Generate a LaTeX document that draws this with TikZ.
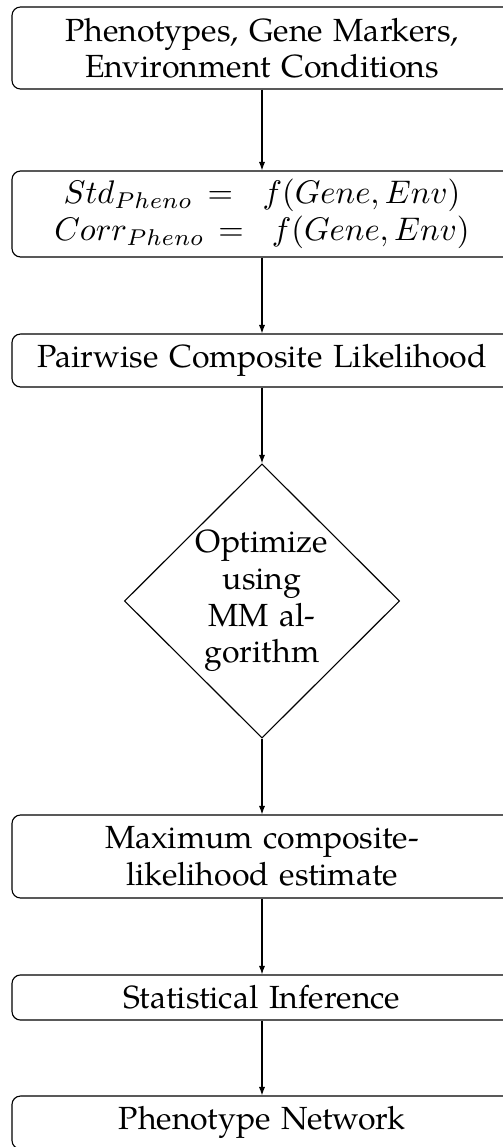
\documentclass[tikz,border=0pt]{standalone}
\usepackage[no-math]{fontspec}
\setmainfont{TeX Gyre Pagella}
\usetikzlibrary{shapes.geometric,arrows.meta}
\newcommand{\eqgap}{=\hspace{4.5pt}}
\begin{document}
\begin{tikzpicture}[
  x=0.306pt, y=-0.306pt,
  line width=0.35pt,
  font=\fontsize{9.8}{11.2}\selectfont,
  stepbox/.style={draw, rounded corners=2.6pt, minimum width=153pt,
    text width=146pt, align=center, inner sep=0pt},
  decide/.style={draw, diamond, aspect=1, minimum width=84.2pt,
    minimum height=83.9pt, inner sep=-4pt, text width=46pt, align=center},
  flow/.style={-{Latex[length=2.6pt,width=1.9pt]}}
]
  \useasboundingbox (0,0) rectangle (503,1147);
  \clip (0,0) rectangle (503,1147);

  % process steps, top to bottom
  \node[stepbox, minimum height=25.1pt] (input) at (262,48)
    {Phenotypes, Gene Markers,\\Environment Conditions};
  \node[stepbox, minimum height=26.3pt] (model) at (262,214)
    {$Std_{Pheno}\eqgap f(Gene, Env)$\\
     $Corr_{Pheno}\eqgap f(Gene, Env)$};
  \node[stepbox, minimum height=16.2pt] (pcl) at (262,360.5)
    {Pairwise Composite Likelihood};
  \node[decide] (opt) at (262,601)
    {Optimize\\using\\MM al-\\gorithm};
  \node[stepbox, minimum height=25.4pt] (mcle) at (262,856.5)
    {Maximum composite-\\likelihood estimate};
  \node[stepbox, minimum height=13.8pt] (infer) at (262,997.5)
    {Statistical Inference};
  \node[stepbox, minimum height=16.2pt] (net) at (262,1122.5)
    {Phenotype Network};

  % connectors
  \draw[flow] (input) -- (model);
  \draw[flow] (model) -- (pcl);
  \draw[flow] (pcl) -- (opt);
  \draw[flow] (opt) -- (mcle);
  \draw[flow] (mcle) -- (infer);
  \draw[flow] (infer) -- (net);
\end{tikzpicture}
\end{document}
